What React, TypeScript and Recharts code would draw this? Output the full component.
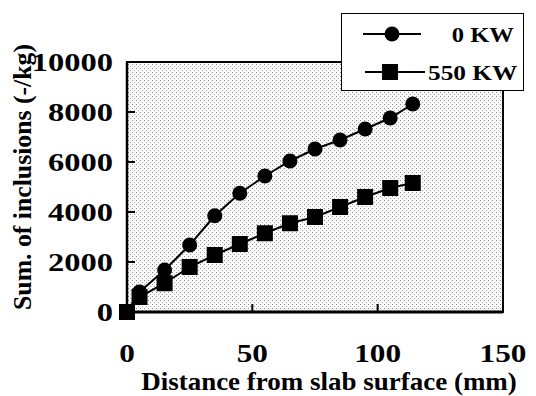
import React from 'react';
import { LineChart, Line, XAxis, YAxis, ReferenceArea, Legend } from 'recharts';

const distances = [0, 5, 15, 25, 35, 45, 55, 65, 75, 85, 95, 105, 114];
const kw0 = [0, 800, 1680, 2680, 3850, 4750, 5440, 6040, 6520, 6880, 7320, 7760, 8320];
const kw550 = [0, 600, 1150, 1800, 2280, 2720, 3150, 3550, 3800, 4200, 4600, 4960, 5160];
const xTicks = [0, 50, 100, 150];
const yTicks = [0, 2000, 4000, 6000, 8000, 10000];
const seriesNames = ['0 KW', '550 KW'];

const data = distances.map((d, i) => ({ d, a: kw0[i], b: kw550[i] }));

const FONT = '"Liberation Serif", "Times New Roman", serif';

const CircleDot = (props: any) => {
  const { cx, cy } = props;
  if (cx == null || cy == null) return null;
  return <circle cx={cx} cy={cy} r={7.5} fill="#000" />;
};

const SquareDot = (props: any) => {
  const { cx, cy } = props;
  if (cx == null || cy == null) return null;
  return <rect x={cx - 8} y={cy - 8} width={16} height={16} fill="#000" />;
};

const SText = ({ x, y, sx, anchor, dy, size, rotate, children }: any) => (
  <g transform={`translate(${x},${y})${rotate ? ` rotate(${rotate})` : ''} scale(${sx},1)`}>
    <text x={0} y={0} dy={dy} textAnchor={anchor} fontFamily={FONT} fontWeight="bold" fontSize={size} fill="#000">
      {children}
    </text>
  </g>
);

const YTick = (props: any) => {
  const { x, y, payload } = props;
  return (
    <SText x={x} y={y} sx={1.3} anchor="end" dy="0.34em" size={25}>
      {payload.value}
    </SText>
  );
};

const XTick = (props: any) => {
  const { x, y, payload } = props;
  return (
    <SText x={x} y={y} sx={1.25} anchor="middle" dy="0.7em" size={25}>
      {payload.value}
    </SText>
  );
};

const LegendBox = () => (
  <div
    style={{
      position: 'absolute',
      left: 341,
      top: 13,
      width: 183,
      height: 78,
      border: '1.5px solid #000',
      background: '#fff',
      boxSizing: 'border-box',
    }}
  >
    <svg width={183} height={78} style={{ position: 'absolute', left: -1.5, top: -1.5 }}>
      <line x1={22} y1={21} x2={80} y2={21} stroke="#000" strokeWidth={2} />
      <circle cx={51} cy={21} r={7.5} fill="#000" />
      <SText x={173} y={29} sx={1.12} anchor="end" size={22}>
        {seriesNames[0]}
      </SText>
      <line x1={24} y1={59} x2={84} y2={59} stroke="#000" strokeWidth={2} />
      <rect x={41} y={51} width={16} height={16} fill="#000" />
      <SText x={87} y={67} sx={1.15} anchor="start" size={22}>
        {seriesNames[1]}
      </SText>
    </svg>
  </div>
);

const YLabel = (props: any) => {
  const vb = props.viewBox || {};
  const x = vb.x + 31;
  const y = vb.y + vb.height / 2 - 10;
  return (
    <SText x={x} y={y} sx={1.03} anchor="middle" size={25} rotate={-90}>
      Sum. of inclusions (-/kg)
    </SText>
  );
};

const XLabel = (props: any) => {
  const vb = props.viewBox || {};
  const x = vb.x + vb.width / 2 + 14;
  const y = vb.y + vb.height - 6;
  return (
    <SText x={x} y={y} sx={1.08} anchor="middle" size={25}>
      Distance from slab surface (mm)
    </SText>
  );
};

export default function App() {
  return (
    <div style={{ position: 'absolute', left: 0, top: 0, width: 536, height: 396, background: '#fff' }}>
      <LineChart
        width={536}
        height={396}
        data={data}
        margin={{ top: 62, right: 33, bottom: 0, left: 0 }}
      >
        <defs>
          <pattern id="stipple" width="4" height="4" patternUnits="userSpaceOnUse">
            <rect x="0" y="0" width="4" height="4" fill="#fafafa" />
            <rect x="0" y="0" width="1" height="1" fill="#8a8a8a" />
            <rect x="2" y="2" width="1" height="1" fill="#a8a8a8" />
          </pattern>
        </defs>
        <XAxis
          dataKey="d"
          type="number"
          domain={[0, 150]}
          ticks={xTicks}
          height={84}
          tickSize={-8}
          tickMargin={40}
          axisLine={{ stroke: '#000', strokeWidth: 3 }}
          tickLine={{ stroke: '#000', strokeWidth: 2 }}
          tick={<XTick />}
          label={<XLabel />}
        />
        <YAxis
          type="number"
          domain={[0, 10000]}
          ticks={yTicks}
          width={127}
          tickSize={-8}
          tickMargin={22}
          axisLine={{ stroke: '#000', strokeWidth: 2.5 }}
          tickLine={{ stroke: '#000', strokeWidth: 2 }}
          tick={<YTick />}
          label={<YLabel />}
        />
        <ReferenceArea
          x1={0}
          x2={150}
          y1={0}
          y2={10000}
          fill="url(#stipple)"
          fillOpacity={1}
          stroke="#000"
          strokeWidth={2}
          strokeOpacity={1}
        />
        <Line
          dataKey="a"
          name={seriesNames[0]}
          stroke="#000"
          strokeWidth={2}
          dot={<CircleDot />}
          activeDot={false}
          isAnimationActive={false}
        />
        <Line
          dataKey="b"
          name={seriesNames[1]}
          stroke="#000"
          strokeWidth={2}
          dot={<SquareDot />}
          activeDot={false}
          isAnimationActive={false}
        />
        <Legend content={<LegendBox />} wrapperStyle={{ position: 'absolute', left: 0, top: 0, width: 0, height: 0 }} />
      </LineChart>
    </div>
  );
}
